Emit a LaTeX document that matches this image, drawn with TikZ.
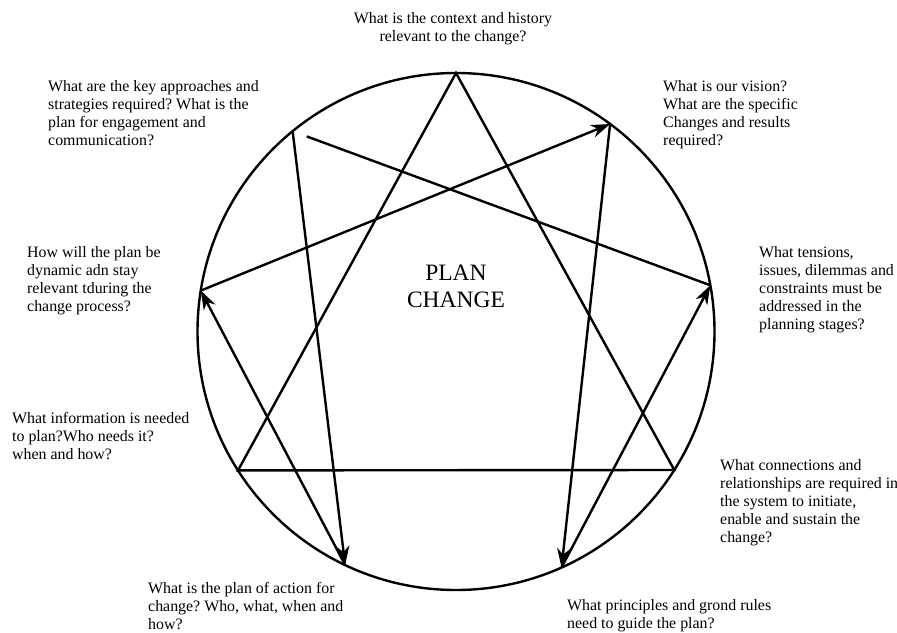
\documentclass[tikz,border=0pt]{standalone}
\usepackage{fontspec}
\setmainfont{Liberation Serif}
\usetikzlibrary{arrows.meta,calc,positioning}
\frenchspacing

\begin{document}
\begin{tikzpicture}[x=1pt,y=-1pt,
every node/.style={inner sep=0pt,anchor=base west,align=left,
 font=\fontsize{15.9}{18.2}\selectfont},
line/.style={line width=2.4pt},
arr/.style={line width=2.4pt,-{Stealth[length=19pt,width=13pt,inset=6pt]}}]
\useasboundingbox (0,0) rectangle (897,632);

\coordinate (C) at (456,331.5);
\draw[line] (C) circle (258.5);

\coordinate (A0) at ($(C)+(-90:258.5)$);
\coordinate (A1) at ($(C)+(-53.4:258.5)$);
\coordinate (A2) at ($(C)+(-10.3:258.5)$);
\coordinate (A3) at ($(C)+(32.4:258.5)$);
\coordinate (A4) at ($(C)+(65.9:258.5)$);
\coordinate (A5) at ($(C)+(115.4:258.5)$);
\coordinate (A6) at ($(C)+(147.5:258.5)$);
\coordinate (A7) at ($(C)+(189.1:258.5)$);
\coordinate (A8) at ($(C)+(230.8:258.5)$);

% triangle
\draw[line,line join=miter] (A0)--(A3)--(A6)--cycle;
% hexad
\draw[arr] (A7)--(A1);
\draw[arr] (A1)--(A4);
\draw[arr] (A4)--(A2);
\draw[line,shorten >=15pt] (A2)--(A8);
\draw[arr] (A8)--(A5);
\draw[arr] (A5)--(A7);

% base anchor sits on the last line
\node[anchor=base,align=center,font=\fontsize{23.5}{27}\selectfont] (T) at (456,307) {PLAN\\CHANGE};

\node[anchor=base,align=center] (Q0) at (453,41.2) {What is the context and history\\relevant to the change?};
\node (Q1) at (663,145.6) {What is our vision?\\What are the specific\\Changes and results\\required?};
\node (Q2) at (759,329.8) {What tensions,\\issues, dilemmas and\\constraints must be\\addressed in the\\planning stages?};
\node (Q3) at (720,542.8) {What connections and\\relationships are required in\\the system to initiate,\\enable and sustain the\\change?};
\node (Q4) at (567,628.2) {What principles and grond rules\\need to guide the plan?};
\node (Q5) at (148,629.4) {What is the plan of action for\\change? Who, what, when and\\how?};
\node (Q6) at (12,459.4) {What information is needed\\to plan?Who needs it?\\when and how?};
\node (Q7) at (27,311.6) {How will the plan be\\dynamic adn stay\\relevant tduring the\\change process?};
\node (Q8) at (48,145.6) {What are the key approaches and\\strategies required? What is the\\plan for engagement and\\communication?};

\end{tikzpicture}
\end{document}
